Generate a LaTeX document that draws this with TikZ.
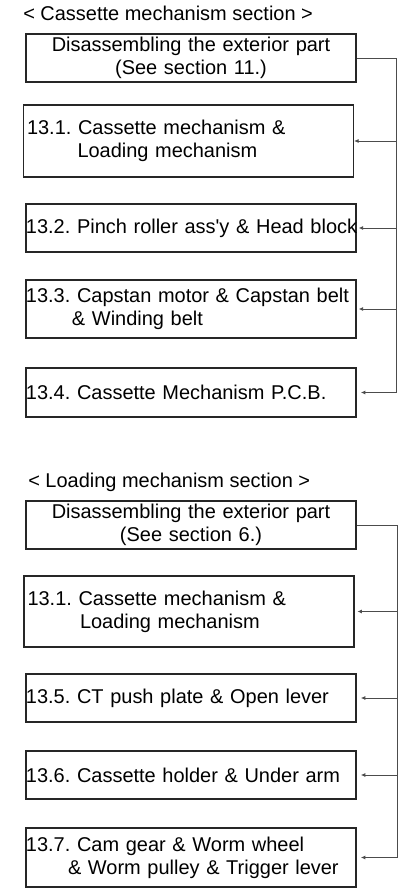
\documentclass[tikz,border=0pt]{standalone}
\usepackage{fontspec}
\setmainfont{Liberation Sans}
\usetikzlibrary{arrows.meta}

\tikzset{
  stepbox/.style={draw=black!85, line width=0.9pt, rectangle, minimum height=1.2cm,
    inner xsep=0pt, inner ysep=0pt, text width=8.25cm, align=left},
  headbox/.style={stepbox, align=center},
  heading/.style={anchor=west, inner sep=0pt},
  bus/.style={draw=black!70, line width=0.6pt},
  feed/.style={bus, -{Latex[length=1.1mm,width=1mm]}}
}

\begin{document}
\begin{tikzpicture}[font=\fontsize{14.2}{16.5}\selectfont\frenchspacing]
				\useasboundingbox (0,0) rectangle (10,-22.225);

				% Cassette mechanism section
				\node[heading] (title1) at (0.575,-0.325) {< Cassette mechanism section >};
				\node[headbox] (dis1) at (4.775,-1.45) {Disassembling the exterior part\\(See section 11.)};
				\node[stepbox, minimum height=1.8cm] (mech1) at (4.7125,-3.525) {\hspace{2.5pt}\mbox{13.1. Cassette mechanism \&}\\\hspace{1.35cm}Loading mechanism};
				\node[stepbox] (pinch) at (4.775,-5.7) {\mbox{13.2. Pinch roller ass\textquotesingle y \& Head block}};
				\node[stepbox, minimum height=1.45cm] (capstan) at (4.775,-7.725) {\mbox{13.3. Capstan motor \& Capstan belt}\\\hspace{1.15cm}\& Winding belt};
				\node[stepbox, minimum height=1.225cm] (pcb) at (4.775,-9.8125) {\mbox{13.4. Cassette Mechanism P.C.B.}};

				% Order of the first section
				\coordinate (bus1) at (9.9,-9.8125);
				\draw[bus] (dis1.east) -| (bus1);
				\draw[feed] (bus1 |- mech1.east) -- (mech1.east);
				\draw[feed] (bus1 |- pinch.east) -- ([xshift=1.5pt]pinch.east);
				\draw[feed] (bus1 |- capstan.east) -- ([xshift=1.5pt]capstan.east);
				\draw[feed] (bus1) -- ([xshift=3pt]pcb.east);

				% Loading mechanism section
				\node[heading] (title2) at (0.7,-12.05) {< Loading mechanism section >};
				\node[headbox] (dis2) at (4.775,-13.125) {Disassembling the exterior part\\(See section 6.)};
				\node[stepbox, minimum height=1.775cm] (mech2) at (4.725,-15.2875) {\hspace{2.5pt}\mbox{13.1. Cassette mechanism \&}\\\hspace{1.4cm}Loading mechanism};
				\node[stepbox] (push) at (4.775,-17.45) {\mbox{13.5. CT push plate \& Open lever}};
				\node[stepbox] (holder) at (4.775,-19.375) {\mbox{13.6. Cassette holder \& Under arm}};
				\node[stepbox, minimum height=1.475cm] (cam) at (4.775,-21.4375) {\mbox{13.7. Cam gear \& Worm wheel}\\\hspace{1.05cm}\& Worm pulley \& Trigger lever};

				% Order of the second section
				\coordinate (bus2) at (9.925,-21.4375);
				\draw[bus] (dis2.east) -| (bus2);
				\draw[feed] (bus2 |- mech2.east) -- ([xshift=2pt]mech2.east);
				\draw[feed] (bus2 |- push.east) -- ([xshift=3pt]push.east);
				\draw[feed] (bus2 |- holder.east) -- ([xshift=3pt]holder.east);
				\draw[feed] (bus2) -- ([xshift=3pt]cam.east);
			\end{tikzpicture}
\end{document}
